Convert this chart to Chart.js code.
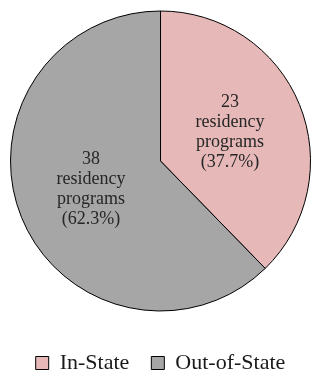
<!DOCTYPE html>
<html>
<head>
<meta charset="utf-8">
<script src="https://cdn.jsdelivr.net/npm/chart.js@4/dist/chart.umd.min.js"></script>
<style>
  html, body { margin: 0; padding: 0; background: #fff; }
  #wrap { width: 311px; height: 377px; }
</style>
</head>
<body>
<div id="wrap"><canvas id="chart-residency"></canvas></div>
<script>
const categories = ["In-State", "Out-of-State"];
const programCounts = [23, 38];
const labelSuffix = ["residency", "programs"];

const sliceColors = ["#e6b9b8", "#a6a6a6"];

// text in each slice: count, words, share
const sliceLabels = {
    id: "sliceLabels",
    afterDatasetsDraw(chart) {
        const ctx = chart.ctx;
        const meta = chart.getDatasetMeta(0);
        const total = programCounts.reduce((a, b) => a + b, 0);
        ctx.save();
        ctx.font = "18px 'Liberation Serif', serif";
        ctx.fillStyle = "#262626";
        ctx.textAlign = "center";
        ctx.textBaseline = "middle";
        meta.data.forEach((arc, i) => {
            const p = arc.getCenterPoint();
            const pct = (programCounts[i] / total * 100).toFixed(1) + "%";
            const lines = [String(programCounts[i]), ...labelSuffix, "(" + pct + ")"];
            const lh = 20;
            const y0 = p.y - (lines.length - 1) * lh / 2;
            lines.forEach((t, k) => ctx.fillText(t, p.x, y0 + k * lh));
        });
        ctx.restore();
    }
};

new Chart(document.getElementById('chart-residency'), {
    type: "pie",
    data: {
        labels: categories,
        datasets: [{
            data: programCounts,
            backgroundColor: sliceColors,
            borderColor: "#000",
            borderWidth: 1
        }]
    },
    options: {
        responsive: true,
        maintainAspectRatio: false,
        animation: false,
        layout: {
            padding: { top: 9, left: 10, right: 0, bottom: -7 }
        },
        plugins: {
            tooltip: { enabled: false },
            legend: {
                position: "bottom",
                // empty title just pushes the legend row down
                title: {
                    display: true,
                    text: "",
                    font: { size: 1, lineHeight: 1 },
                    padding: { top: 16, bottom: 0 }
                },
                labels: {
                    boxWidth: 13,
                    boxHeight: 13,
                    padding: 22,
                    color: "#1a1a1a",
                    font: { family: "'Liberation Serif', serif", size: 22 }
                }
            }
        }
    },
    plugins: [sliceLabels]
})
</script>
</body>
</html>
